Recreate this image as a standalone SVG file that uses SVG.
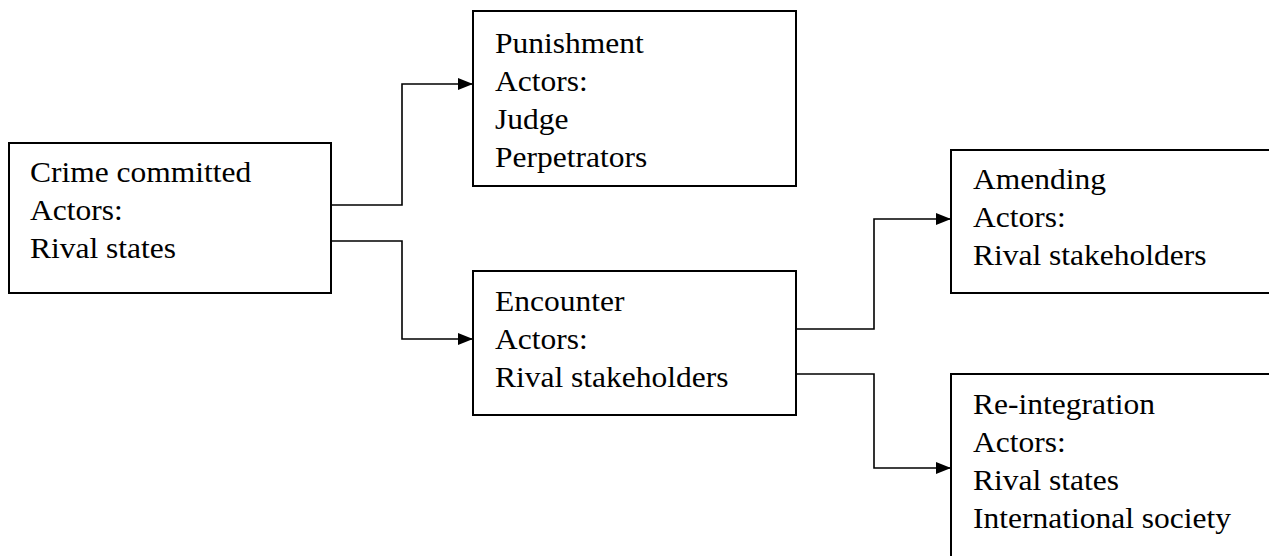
<svg xmlns="http://www.w3.org/2000/svg" width="1269" height="556" viewBox="0 0 1269 556">
<style>
.box{fill:#fff;stroke:#000;stroke-width:2}
.lbl{font-family:"Liberation Serif","Times New Roman",serif;font-size:30px;fill:#000}
.conn{fill:none;stroke:#000;stroke-width:1.6}
</style>
<defs>
<marker id="arr" markerUnits="userSpaceOnUse" markerWidth="15" markerHeight="14" refX="15" refY="7" orient="auto">
<path d="M0,1 L15,7 L0,13 z" fill="#000"/>
</marker>
</defs>
<rect width="1269" height="556" fill="#fff"/>
<g id="crime">
<rect class="box" x="9" y="143" width="322" height="150"/>
<text class="lbl" transform="matrix(1.05 0 0 1 30 0)"><tspan x="0" y="182">Crime committed</tspan><tspan x="0" y="220">Actors:</tspan><tspan x="0" y="258">Rival states</tspan></text>
</g>
<g id="punishment">
<rect class="box" x="473" y="11" width="323" height="175"/>
<text class="lbl" transform="matrix(1.05 0 0 1 495 0)"><tspan x="0" y="53">Punishment</tspan><tspan x="0" y="91">Actors:</tspan><tspan x="0" y="129">Judge</tspan><tspan x="0" y="167">Perpetrators</tspan></text>
</g>
<g id="encounter">
<rect class="box" x="473" y="271" width="323" height="144"/>
<text class="lbl" transform="matrix(1.05 0 0 1 495 0)"><tspan x="0" y="311">Encounter</tspan><tspan x="0" y="349">Actors:</tspan><tspan x="0" y="387">Rival stakeholders</tspan></text>
</g>
<g id="amending">
<rect class="box" x="951" y="150" width="330" height="143"/>
<text class="lbl" transform="matrix(1.05 0 0 1 973 0)"><tspan x="0" y="189">Amending</tspan><tspan x="0" y="227">Actors:</tspan><tspan x="0" y="265">Rival stakeholders</tspan></text>
</g>
<g id="reintegration">
<rect class="box" x="951" y="374" width="330" height="200"/>
<text class="lbl" transform="matrix(1.05 0 0 1 973 0)"><tspan x="0" y="414">Re-integration</tspan><tspan x="0" y="452">Actors:</tspan><tspan x="0" y="490">Rival states</tspan><tspan x="0" y="528">International society</tspan></text>
</g>
<g id="connectors">
<path class="conn" d="M331,205 H402 V84 H473" marker-end="url(#arr)"/>
<path class="conn" d="M331,241 H402 V339 H473" marker-end="url(#arr)"/>
<path class="conn" d="M796,329 H874 V219 H951" marker-end="url(#arr)"/>
<path class="conn" d="M796,374 H874 V468 H951" marker-end="url(#arr)"/>
</g>
</svg>
